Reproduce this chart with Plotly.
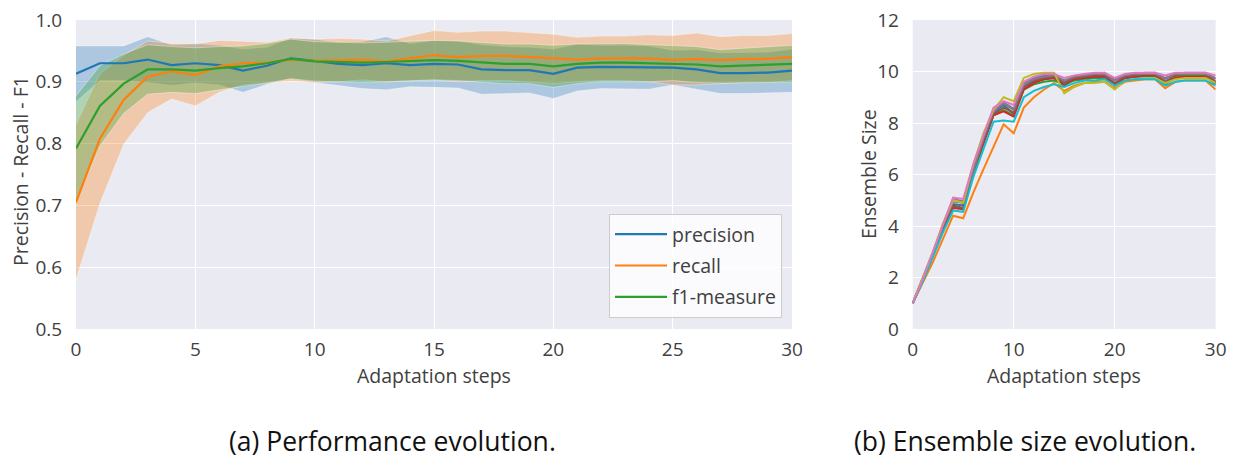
import plotly.graph_objects as go

# ---------------- data ----------------
steps = list(range(31))

precision_mean = [0.913, 0.930, 0.930, 0.936, 0.927, 0.930, 0.927, 0.918, 0.926, 0.938, 0.934,
                  0.929, 0.927, 0.930, 0.927, 0.929, 0.928, 0.920, 0.919, 0.919, 0.913,
                  0.923, 0.924, 0.924, 0.923, 0.923, 0.920, 0.914, 0.914, 0.915, 0.918]
precision_std = [0.045, 0.028, 0.028, 0.037, 0.033, 0.032, 0.032, 0.035, 0.030, 0.033, 0.035,
                 0.035, 0.038, 0.043, 0.035, 0.038, 0.038, 0.040, 0.038, 0.037, 0.040,
                 0.038, 0.035, 0.035, 0.035, 0.028, 0.032, 0.033, 0.033, 0.033, 0.035]

recall_mean = [0.705, 0.808, 0.871, 0.908, 0.917, 0.911, 0.925, 0.930, 0.931, 0.936, 0.934,
               0.935, 0.936, 0.933, 0.938, 0.943, 0.940, 0.942, 0.942, 0.940, 0.937,
               0.936, 0.938, 0.938, 0.938, 0.935, 0.937, 0.935, 0.937, 0.937, 0.940]
recall_std = [0.125, 0.105, 0.072, 0.058, 0.045, 0.050, 0.042, 0.035, 0.033, 0.035, 0.035,
              0.035, 0.033, 0.033, 0.036, 0.040, 0.040, 0.040, 0.040, 0.040, 0.040,
              0.036, 0.036, 0.036, 0.038, 0.040, 0.042, 0.038, 0.038, 0.038, 0.038]

f1_mean = [0.792, 0.861, 0.897, 0.920, 0.920, 0.918, 0.922, 0.925, 0.930, 0.937, 0.933,
           0.932, 0.931, 0.932, 0.934, 0.935, 0.934, 0.931, 0.929, 0.929, 0.925,
           0.929, 0.931, 0.931, 0.930, 0.930, 0.928, 0.925, 0.926, 0.927, 0.929]
f1_std = [0.085, 0.065, 0.048, 0.040, 0.037, 0.037, 0.035, 0.033, 0.032, 0.032, 0.032,
          0.032, 0.032, 0.032, 0.032, 0.032, 0.032, 0.032, 0.032, 0.032, 0.034,
          0.032, 0.031, 0.031, 0.030, 0.028, 0.029, 0.027, 0.028, 0.029, 0.030]

metric_names = ["precision", "recall", "f1-measure"]
metric_colors = ["#1f77b4", "#ff7f0e", "#2ca02c"]
metric_fills = ["rgba(31,119,180,0.3)", "rgba(255,127,14,0.3)", "rgba(44,160,44,0.3)"]

ens_blue = [1.0, 1.9, 2.9, 3.95, 4.85, 4.8, 6.1, 7.3, 8.4, 8.7, 8.35, 9.4, 9.6, 9.7, 9.75, 9.45,
            9.7, 9.75, 9.8, 9.8, 9.45, 9.75, 9.8, 9.8, 9.8, 9.5, 9.75, 9.8, 9.8, 9.8, 9.5]
ens_orange = [1.0, 1.8, 2.6, 3.5, 4.4, 4.3, 5.3, 6.2, 7.1, 7.95, 7.6, 8.6, 9.0, 9.3, 9.55, 9.25,
              9.45, 9.55, 9.6, 9.6, 9.35, 9.6, 9.65, 9.7, 9.7, 9.35, 9.6, 9.65, 9.65, 9.65, 9.3]
ens_green = [1.0, 1.95, 2.9, 3.9, 4.75, 4.65, 6.0, 7.2, 8.3, 8.5, 8.3, 9.3, 9.5, 9.6, 9.65, 9.5,
             9.65, 9.7, 9.75, 9.75, 9.5, 9.75, 9.8, 9.85, 9.85, 9.6, 9.8, 9.85, 9.85, 9.85, 9.6]
ens_red = [1.0, 1.9, 2.85, 3.85, 4.7, 4.65, 6.0, 7.2, 8.3, 8.45, 8.25, 9.3, 9.55, 9.7, 9.75, 9.5,
           9.7, 9.75, 9.8, 9.8, 9.5, 9.75, 9.8, 9.85, 9.85, 9.55, 9.75, 9.8, 9.8, 9.8, 9.55]
ens_purple = [1.0, 1.95, 2.95, 4.05, 5.05, 4.95, 6.3, 7.4, 8.4, 8.8, 8.55, 9.55, 9.75, 9.85, 9.85, 9.6,
              9.8, 9.85, 9.9, 9.95, 9.65, 9.85, 9.9, 9.95, 9.95, 9.7, 9.9, 9.95, 9.95, 9.95, 9.7]
ens_brown = [1.0, 1.9, 2.9, 3.9, 4.8, 4.7, 6.1, 7.3, 8.35, 8.6, 8.4, 9.4, 9.65, 9.75, 9.8, 9.55,
             9.75, 9.8, 9.85, 9.85, 9.55, 9.8, 9.85, 9.9, 9.9, 9.6, 9.85, 9.9, 9.9, 9.9, 9.6]
ens_grey = [1.0, 1.95, 2.95, 4.0, 4.95, 4.9, 6.2, 7.4, 8.5, 8.75, 8.5, 9.5, 9.7, 9.8, 9.85, 9.65,
            9.8, 9.85, 9.9, 9.9, 9.7, 9.85, 9.9, 9.9, 9.9, 9.75, 9.9, 9.9, 9.9, 9.9, 9.75]
ens_olive = [1.0, 2.0, 3.0, 4.1, 5.0, 4.9, 6.4, 7.6, 8.5, 9.0, 8.85, 9.75, 9.9, 9.95, 9.95, 9.15,
             9.4, 9.55, 9.55, 9.6, 9.3, 9.65, 9.7, 9.75, 9.75, 9.55, 9.7, 9.75, 9.75, 9.75, 9.55]
ens_cyan = [1.0, 1.85, 2.8, 3.75, 4.6, 4.55, 5.9, 7.0, 8.05, 8.1, 8.05, 9.0, 9.25, 9.4, 9.5, 9.4,
            9.55, 9.65, 9.65, 9.7, 9.45, 9.65, 9.7, 9.7, 9.7, 9.45, 9.6, 9.65, 9.65, 9.65, 9.45]
ens_pink = [1.0, 1.95, 3.0, 4.05, 5.1, 5.05, 6.4, 7.5, 8.6, 8.85, 8.7, 9.6, 9.8, 9.9, 9.9, 9.75,
            9.85, 9.9, 9.95, 9.95, 9.75, 9.9, 9.95, 9.95, 9.95, 9.85, 9.95, 9.95, 9.95, 9.95, 9.85]

ens_series = [ens_blue, ens_orange, ens_green, ens_red, ens_purple, ens_brown,
              ens_grey, ens_olive, ens_cyan, ens_pink]
ens_colors = ["#1f77b4", "#ff7f0e", "#2ca02c", "#d62728", "#9467bd", "#8c564b",
              "#7f7f7f", "#bcbd22", "#17becf", "#e377c2"]

# ---------------- figure ----------------
W, H = 1233, 463
FONT = "Open Sans, Noto Sans, DejaVu Sans, sans-serif"
TICK_COLOR = "#404040"

def px_x(p):
    return p / W

def px_y(p):
    return 1 - p / H

fig = go.Figure()

means = [precision_mean, recall_mean, f1_mean]
stds = [precision_std, recall_std, f1_std]

# bands
for m, s, fc in zip(means, stds, metric_fills):
    upper = [a + b for a, b in zip(m, s)]
    lower = [a - b for a, b in zip(m, s)]
    fig.add_trace(go.Scatter(x=steps, y=upper, mode="lines",
                             line=dict(width=0.8, color="rgba(255,255,255,0.45)"),
                             showlegend=False, hoverinfo="skip", xaxis="x", yaxis="y"))
    fig.add_trace(go.Scatter(x=steps, y=lower, mode="lines", fill="tonexty", fillcolor=fc,
                             line=dict(width=0.8, color="rgba(255,255,255,0.45)"),
                             showlegend=False, hoverinfo="skip", xaxis="x", yaxis="y"))

# mean lines
for m, name, c in zip(means, metric_names, metric_colors):
    fig.add_trace(go.Scatter(x=steps, y=m, mode="lines", name=name,
                             line=dict(width=2.2, color=c), xaxis="x", yaxis="y",
                             legendgroup=name))

# ensemble lines
for ser, c in zip(ens_series, ens_colors):
    fig.add_trace(go.Scatter(x=steps, y=ser, mode="lines", line=dict(width=2, color=c),
                             showlegend=False, xaxis="x2", yaxis="y2"))

left_l, left_r = 76, 792
right_l, right_r = 912.7, 1215.7
top, bottom = 20, 329

axis_common = dict(showline=False, zeroline=False, gridcolor="white", gridwidth=1.3,
                   ticks="outside", tickcolor="rgba(0,0,0,0)", automargin=False,
                   tickfont=dict(family=FONT, size=19, color=TICK_COLOR))

fig.update_layout(
    width=W, height=H,
    margin=dict(l=0, r=0, t=0, b=0, autoexpand=False),
    paper_bgcolor="white",
    plot_bgcolor="#EAEAF2",
    showlegend=True,
    xaxis=dict(domain=[px_x(left_l), px_x(left_r)], range=[0, 30], tickvals=[0, 5, 10, 15, 20, 25, 30],
               anchor="y", ticklen=3, **axis_common),
    yaxis=dict(domain=[px_y(bottom), px_y(top)], range=[0.5, 1.0],
               tickvals=[0.5, 0.6, 0.7, 0.8, 0.9, 1.0], ticktext=["0.5", "0.6", "0.7", "0.8", "0.9", "1.0"],
               anchor="x", ticklen=9, **axis_common),
    xaxis2=dict(domain=[px_x(right_l), px_x(right_r)], range=[0, 30], tickvals=[0, 10, 20, 30],
                anchor="y2", ticklen=3, **axis_common),
    yaxis2=dict(domain=[px_y(bottom), px_y(top)], range=[0, 12], tickvals=[0, 2, 4, 6, 8, 10, 12],
                anchor="x2", ticklen=9, **axis_common),
    legend=dict(x=px_x(782), y=px_y(318), xanchor="right", yanchor="bottom",
                bgcolor="rgba(255,255,255,0.8)", bordercolor="#cccccc", borderwidth=1,
                font=dict(family=FONT, size=19.5, color=TICK_COLOR),
                itemwidth=52, tracegroupgap=3),
)

title_font = dict(family=FONT, size=19.5, color=TICK_COLOR)
annotations = [
    dict(text="Adaptation steps", x=px_x((left_l + left_r) / 2), y=px_y(375), xref="paper", yref="paper",
         showarrow=False, font=title_font, xanchor="center", yanchor="middle"),
    dict(text="Adaptation steps", x=px_x((right_l + right_r) / 2), y=px_y(375), xref="paper", yref="paper",
         showarrow=False, font=title_font, xanchor="center", yanchor="middle"),
    dict(text="Precision - Recall - F1", x=px_x(20), y=px_y(171), xref="paper", yref="paper",
         showarrow=False, font=title_font, textangle=-90, xanchor="center", yanchor="middle"),
    dict(text="Ensemble Size", x=px_x(868), y=px_y(174), xref="paper", yref="paper",
         showarrow=False, font=title_font, textangle=-90, xanchor="center", yanchor="middle"),
    dict(text="(a) Performance evolution.", x=px_x(392), y=px_y(441), xref="paper", yref="paper",
         showarrow=False, font=dict(family=FONT, size=26.5, color="#111111"), xanchor="center", yanchor="middle"),
    dict(text="(b) Ensemble size evolution.", x=px_x(1025), y=px_y(441), xref="paper", yref="paper",
         showarrow=False, font=dict(family=FONT, size=26.5, color="#111111"), xanchor="center", yanchor="middle"),
]
fig.update_layout(annotations=annotations)

fig.write_html("out.html", config={"displayModeBar": False},
               post_script="document.body.style.margin='0px';")
